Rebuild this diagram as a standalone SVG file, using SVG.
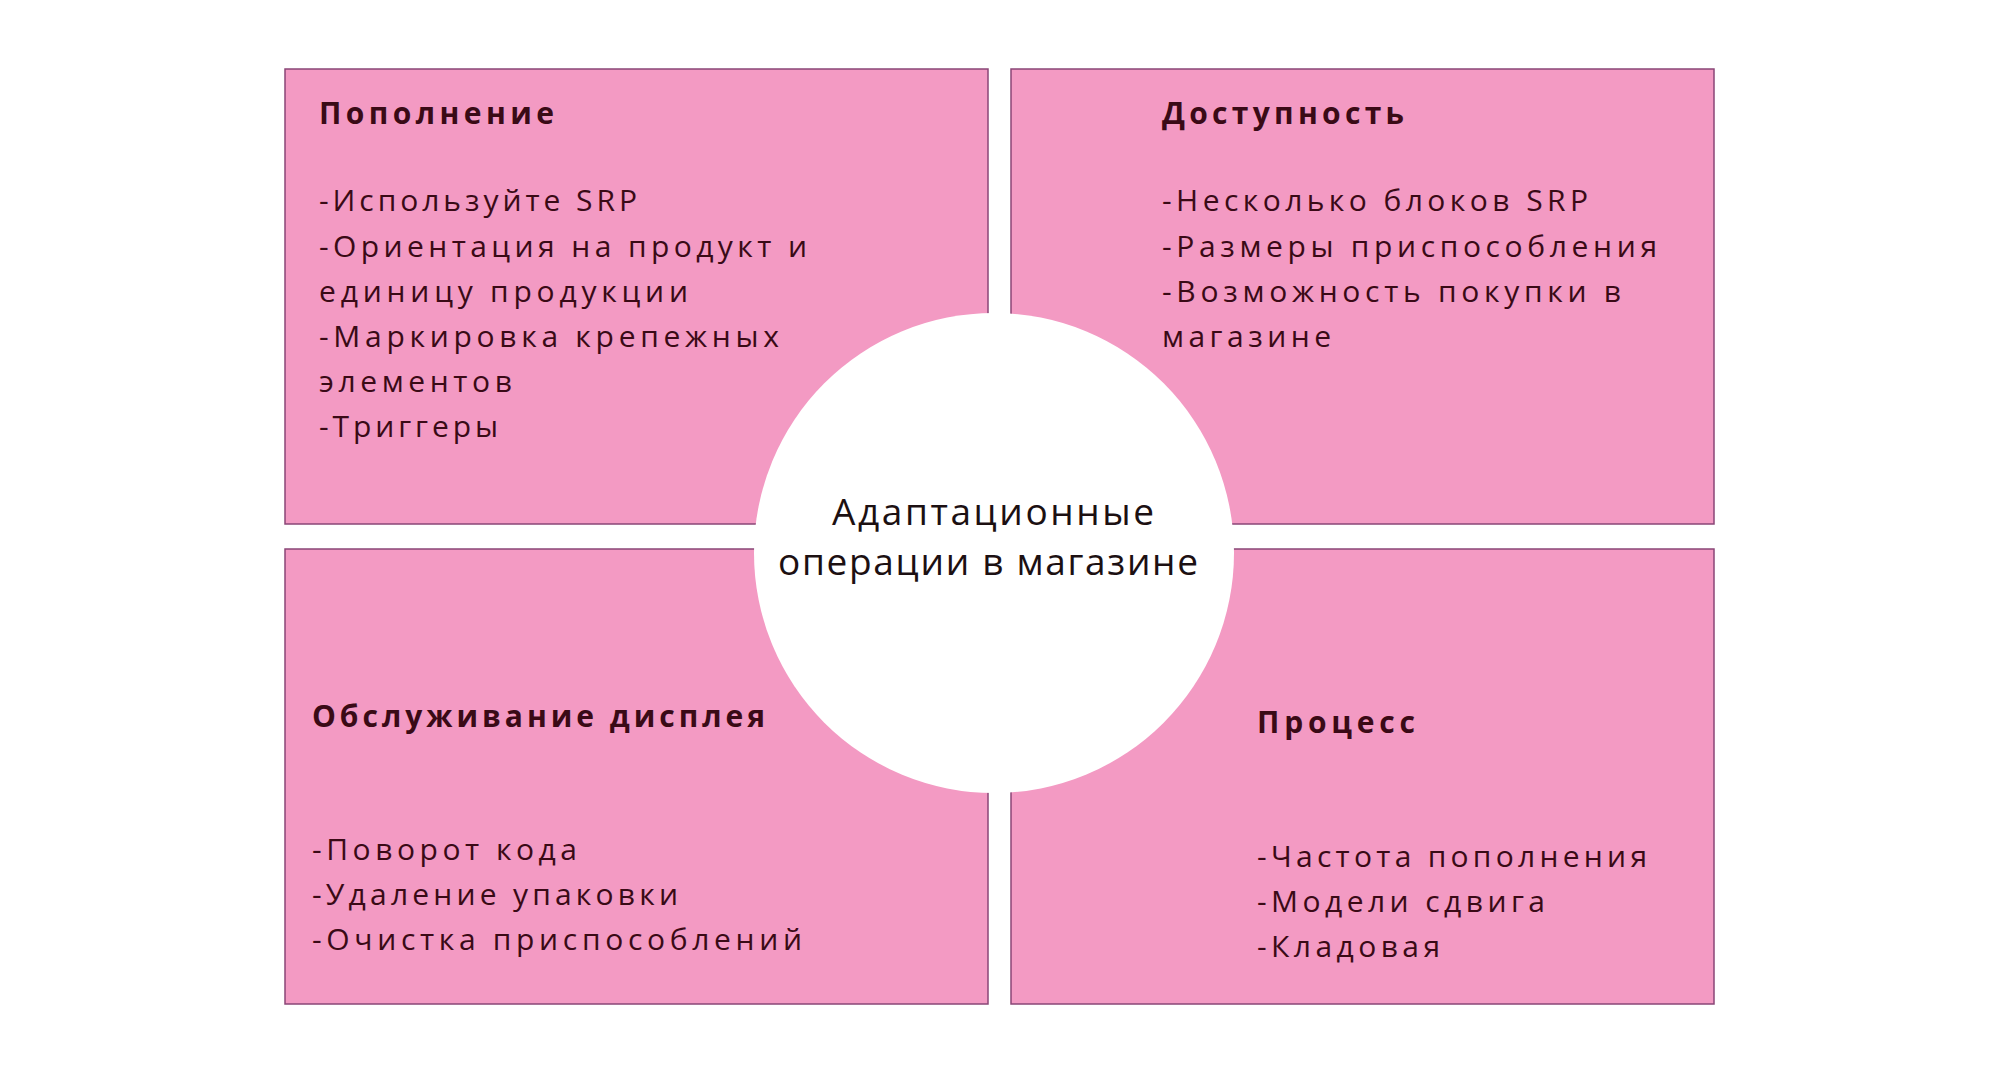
<svg xmlns="http://www.w3.org/2000/svg" width="2000" height="1070" viewBox="0 0 2000 1070">
<style>
.box{fill:#F39AC3;stroke:#8A4677;stroke-width:1.5}
.t{font-family:"Open Sans","Liberation Sans",sans-serif;fill:#3A0A16;font-size:30px}
.h{font-weight:bold;font-size:30px}
.c{font-family:"Open Sans","Liberation Sans",sans-serif;fill:#1C1012;font-size:37px}
</style>
<rect width="2000" height="1070" fill="#FFFFFF"/>
<g id="node-popolnenie">
<rect class="box" x="285" y="69" width="703" height="455"/>
<text class="t h" x="319" y="124" textLength="235" lengthAdjust="spacing">Пополнение</text>
<text class="t" x="319" y="211" textLength="318" lengthAdjust="spacing">-Используйте SRP</text>
<text class="t" x="319" y="257" textLength="488" lengthAdjust="spacing">-Ориентация на продукт и</text>
<text class="t" x="319" y="302" textLength="369" lengthAdjust="spacing">единицу продукции</text>
<text class="t" x="319" y="347" textLength="460" lengthAdjust="spacing">-Маркировка крепежных</text>
<text class="t" x="319" y="392" textLength="193" lengthAdjust="spacing">элементов</text>
<text class="t" x="319" y="437" textLength="179" lengthAdjust="spacing">-Триггеры</text>
</g>
<g id="node-dostupnost">
<rect class="box" x="1011" y="69" width="703" height="455"/>
<text class="t h" x="1162" y="124" textLength="242" lengthAdjust="spacing">Доступность</text>
<text class="t" x="1162" y="211" textLength="426" lengthAdjust="spacing">-Несколько блоков SRP</text>
<text class="t" x="1162" y="257" textLength="495" lengthAdjust="spacing">-Размеры приспособления</text>
<text class="t" x="1162" y="302" textLength="459" lengthAdjust="spacing">-Возможность покупки в</text>
<text class="t" x="1162" y="347" textLength="169" lengthAdjust="spacing">магазине</text>
</g>
<g id="node-obsluzhivanie">
<rect class="box" x="285" y="549" width="703" height="455"/>
<text class="t h" x="312" y="727" textLength="453" lengthAdjust="spacing">Обслуживание дисплея</text>
<text class="t" x="312" y="860" textLength="265" lengthAdjust="spacing">-Поворот кода</text>
<text class="t" x="312" y="905" textLength="366" lengthAdjust="spacing">-Удаление упаковки</text>
<text class="t" x="312" y="950" textLength="490" lengthAdjust="spacing">-Очистка приспособлений</text>
</g>
<g id="node-process">
<rect class="box" x="1011" y="549" width="703" height="455"/>
<text class="t h" x="1257" y="733" textLength="158" lengthAdjust="spacing">Процесс</text>
<text class="t" x="1257" y="867" textLength="390" lengthAdjust="spacing">-Частота пополнения</text>
<text class="t" x="1257" y="912" textLength="288" lengthAdjust="spacing">-Модели сдвига</text>
<text class="t" x="1257" y="957" textLength="183" lengthAdjust="spacing">-Кладовая</text>
</g>
<g id="node-center">
<circle cx="994" cy="553" r="240" fill="#FFFFFF"/>
<text class="c" x="832" y="525" textLength="322" lengthAdjust="spacing">Адаптационные</text>
<text class="c" x="778" y="575" textLength="420" lengthAdjust="spacing">операции в магазине</text>
</g>
<g id="connectors"></g>
</svg>
